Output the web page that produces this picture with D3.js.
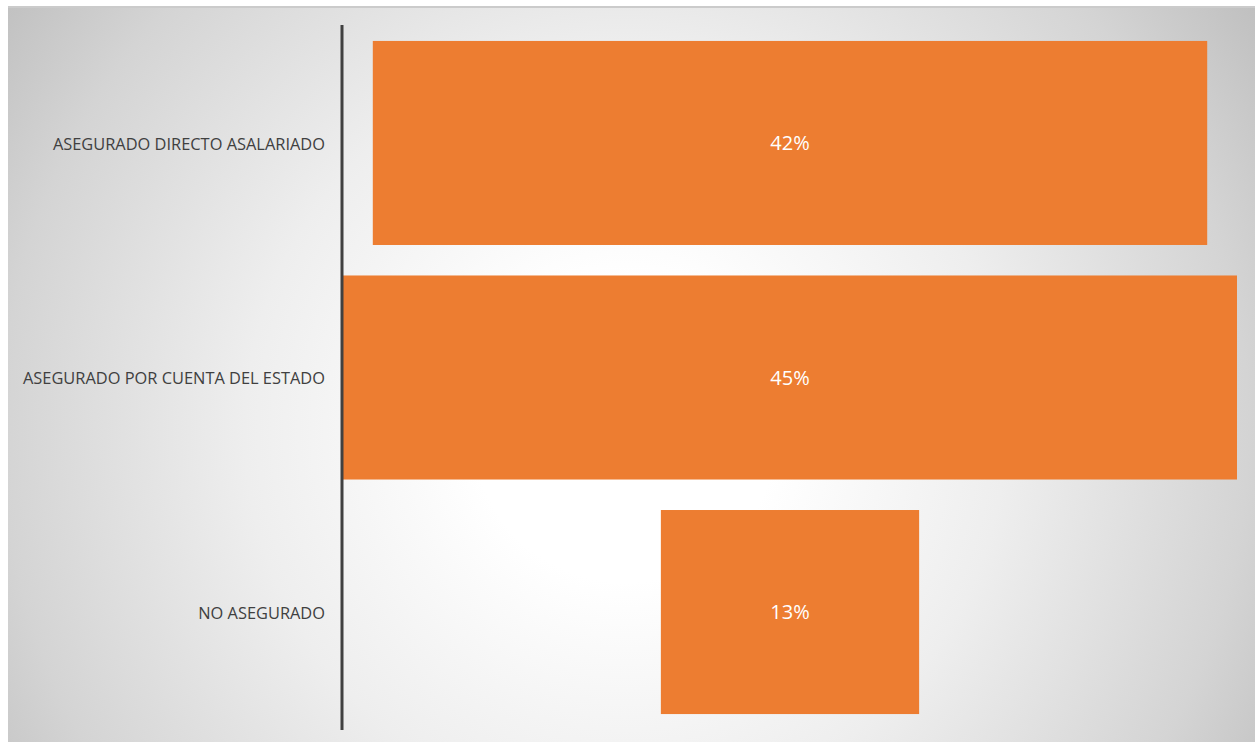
<!DOCTYPE html>
<html>
<head>
<meta charset="utf-8">
<script src="https://cdn.jsdelivr.net/npm/d3@7"></script>
<style>
  body { margin: 0; background: #fff; }
  svg { display: block; }
</style>
</head>
<body>
<script>
// data
var categories = ["ASEGURADO DIRECTO ASALARIADO", "ASEGURADO POR CUENTA DEL ESTADO", "NO ASEGURADO"];
var values = [42, 45, 13];
var valueLabels = ["42%", "45%", "13%"];

var W = 1255, H = 742;
var svg = d3.select("body").append("svg").attr("width", W).attr("height", H);

// background gradient (white centre behind the bars, grey edges)
var defs = svg.append("defs");
var grad = defs.append("radialGradient")
  .attr("id", "bg")
  .attr("gradientUnits", "userSpaceOnUse")
  .attr("cx", 625).attr("cy", 430).attr("r", 760);
[[0, "#ffffff"], [0.2, "#ffffff"], [0.5, "#eeeeee"], [0.82, "#d4d4d4"], [0.97, "#c3c3c3"], [1, "#c0c0c0"]]
  .forEach(function (s) {
    grad.append("stop").attr("offset", s[0]).attr("stop-color", s[1]);
  });

svg.append("rect")
  .attr("x", 8).attr("y", 6).attr("width", W - 8).attr("height", H - 6)
  .attr("fill", "#cbcbcb");
svg.append("rect")
  .attr("x", 8).attr("y", 8).attr("width", W - 8).attr("height", H - 8)
  .attr("fill", "url(#bg)");

// layout
var axisX = 342, centerX = 790;
var y = d3.scaleBand().domain(categories).range([25, 730]).paddingInner(0.13).paddingOuter(0.068);
var half = d3.scaleLinear().domain([0, 45]).range([0, 447]);

var g = svg.append("g");

g.selectAll("rect.bar")
  .data(values)
  .enter()
  .append("rect")
  .attr("class", "bar")
  .attr("x", function (d) { return centerX - half(d); })
  .attr("width", function (d) { return 2 * half(d); })
  .attr("y", function (d, i) { return y(categories[i]); })
  .attr("height", y.bandwidth())
  .attr("fill", "#ed7d31");

g.selectAll("text.val")
  .data(values)
  .enter()
  .append("text")
  .attr("class", "val")
  .attr("x", centerX)
  .attr("y", function (d, i) { return y(categories[i]) + y.bandwidth() / 2; })
  .attr("dy", "0.35em")
  .attr("text-anchor", "middle")
  .attr("fill", "#ffffff")
  .style("font-family", "'Open Sans', sans-serif")
  .style("font-size", "20px")
  .text(function (d, i) { return valueLabels[i]; });

// category axis
var axis = d3.axisLeft(y).tickSize(0).tickPadding(17);
var ax = svg.append("g")
  .attr("transform", "translate(" + axisX + ",0)")
  .call(axis);
ax.select(".domain").attr("stroke", "#404040").attr("stroke-width", 3)
  .attr("d", "M0,25V730");
ax.selectAll("text")
  .attr("fill", "#404040")
  .attr("dy", "0.4em")
  .style("font-family", "'Open Sans', sans-serif")
  .style("font-size", "16.4px");
</script>
</body>
</html>
